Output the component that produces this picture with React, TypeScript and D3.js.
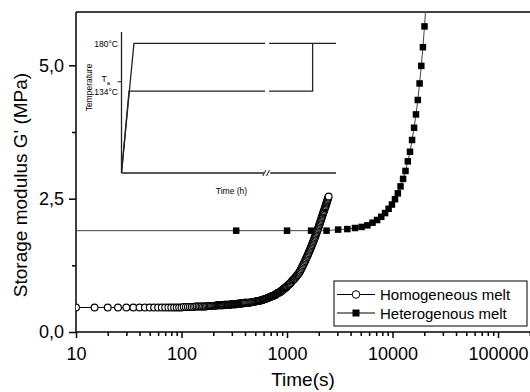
import React, { useEffect, useRef } from "react";
import * as d3 from "d3";

// Homogeneous melt, time (s) and G' (MPa)
const homoTime = [
  10, 15, 20, 25, 30, 35, 40, 45, 50, 55, 60, 65, 70, 75, 80, 85, 90, 95, 100, 105, 110, 115, 120, 125, 130, 135, 140, 145,
  150, 155, 160, 165, 170, 175, 180, 185, 190, 195, 200, 205, 210, 215, 220, 225, 230, 235, 240, 245, 250, 255, 260, 265, 270,
  275, 280, 285, 290, 295, 300, 305, 310, 315, 320, 325, 330, 335, 340, 345, 350, 355, 360, 365, 370, 375, 380, 385, 390, 395,
  400, 410, 420, 430, 440, 450, 460, 470, 480, 490, 500, 510, 520, 530, 540, 550, 560, 570, 580, 590, 600, 610, 620, 630, 640,
  650, 660, 670, 680, 690, 700, 710, 720, 730, 740, 750, 760, 770, 780, 790, 800, 810, 820, 830, 840, 850, 860, 870, 880, 890,
  900, 910, 920, 930, 940, 950, 960, 970, 980, 990,
  1000, 1020, 1040, 1060, 1080, 1100, 1120, 1140, 1160, 1180, 1200, 1220, 1240, 1260, 1280, 1300, 1320, 1340, 1360, 1380,
  1400, 1420, 1440, 1460, 1480, 1500, 1520, 1540, 1560, 1580, 1600, 1620, 1640, 1660, 1680, 1700, 1720, 1740, 1760, 1780,
  1800, 1820, 1840, 1860, 1880, 1900, 1920, 1940, 1960, 1980, 2000, 2020, 2040, 2060, 2080, 2100, 2120, 2140, 2160, 2180,
  2200, 2220, 2240, 2260, 2280, 2300, 2320, 2340, 2360, 2380, 2400, 2420, 2440, 2460, 2480,
];
const homoG = [
  0.46, 0.46, 0.46, 0.46, 0.46, 0.46, 0.46, 0.46, 0.46, 0.46, 0.46, 0.46, 0.46, 0.46, 0.46, 0.46, 0.46, 0.46, 0.46, 0.47, 0.47, 0.47, 0.47, 0.47, 0.47, 0.48, 0.48, 0.48,
  0.48, 0.48, 0.48, 0.48, 0.48, 0.49, 0.49, 0.49, 0.49, 0.49, 0.49, 0.49, 0.49, 0.5, 0.5, 0.5, 0.5, 0.5, 0.5, 0.5, 0.5, 0.51, 0.51, 0.51, 0.51,
  0.51, 0.51, 0.51, 0.51, 0.52, 0.52, 0.52, 0.52, 0.52, 0.52, 0.52, 0.52, 0.53, 0.53, 0.53, 0.53, 0.53, 0.53, 0.54, 0.54, 0.54, 0.54, 0.54, 0.54, 0.55,
  0.55, 0.55, 0.55, 0.55, 0.55, 0.555, 0.56, 0.56, 0.56, 0.565, 0.57, 0.575, 0.58, 0.58, 0.58, 0.585, 0.59, 0.595, 0.6, 0.605, 0.61, 0.615, 0.62, 0.625, 0.63,
  0.635, 0.64, 0.645, 0.65, 0.655, 0.66, 0.665, 0.67, 0.675, 0.68, 0.685, 0.69, 0.695, 0.7, 0.71, 0.72, 0.725, 0.73, 0.735, 0.74, 0.745, 0.75, 0.76, 0.77, 0.775,
  0.78, 0.79, 0.8, 0.805, 0.81, 0.82, 0.83, 0.835, 0.84, 0.85,
  0.86, 0.875, 0.89, 0.905, 0.92, 0.94, 0.96, 0.975, 0.99, 1.005, 1.02, 1.04, 1.06, 1.075, 1.09, 1.11, 1.13, 1.155, 1.18, 1.205,
  1.23, 1.255, 1.28, 1.305, 1.33, 1.355, 1.38, 1.405, 1.43, 1.455, 1.48, 1.505, 1.53, 1.555, 1.58, 1.605, 1.63, 1.655, 1.68, 1.705,
  1.73, 1.755, 1.78, 1.805, 1.83, 1.855, 1.88, 1.905, 1.93, 1.955, 1.98, 2.005, 2.03, 2.055, 2.08, 2.105, 2.13, 2.155, 2.18, 2.205,
  2.23, 2.25, 2.27, 2.295, 2.32, 2.34, 2.36, 2.385, 2.41, 2.43, 2.45, 2.475, 2.5, 2.52, 2.54,
];

// Heterogenous melt
const heteroTime = [
  1, 330, 1000, 1690, 2370, 3050, 3730, 4410, 5090, 5780, 6460, 7140, 7820, 8500, 9180, 9870, 10550, 11230, 11910,
  12590, 13270, 13960, 14640, 15320, 16000, 16680, 17370, 18050, 18730, 19410, 20090, 20770,
];
const heteroG = [
  1.9, 1.9, 1.9, 1.9, 1.9, 1.92, 1.93, 1.95, 1.97, 2.0, 2.05, 2.1, 2.16, 2.23, 2.31, 2.39, 2.49, 2.6, 2.73,
  2.87, 3.02, 3.2, 3.38, 3.6, 3.83, 4.08, 4.35, 4.66, 4.99, 5.34, 5.73, 6.15,
];

const seriesNames = ["Homogeneous melt", "Heterogenous melt"];
const xMajor = [10, 100, 1000, 10000, 100000];
const yMajor = [0, 2.5, 5];
const yMinor = [1.25, 3.75];

// inset: schematic temperature programme (arbitrary time units, degC)
const insetHighA = [[0, 55], [5.8, 180], [66.9, 180]];
const insetHighB = [[68.8, 180], [100, 180]];
const insetLowA = [[0, 55], [3.5, 134], [66.9, 134]];
const insetLowB = [[68.8, 134], [89.1, 134], [89.1, 180]];
const insetBaseA = [[0, 55], [66.4, 55]];
const insetBaseB = [[69.3, 55], [100, 55]];
const insetAxis = [[0, 55], [0, 191]];
const insetTa = 143;

const W = 530;
const H = 392;
const margin = { top: 12, right: 0, bottom: 60, left: 76 };
const font = "Arial, 'Liberation Sans', sans-serif";

export default function App() {
  const ref = useRef<SVGSVGElement>(null);

  useEffect(() => {
    const svg = d3.select(ref.current);
    svg.selectAll("*").remove();

    const x = d3.scaleLog().domain([10, 200000]).range([margin.left, 529.8]);
    const y = d3.scaleLinear().domain([0, 6]).range([H - margin.bottom, margin.top]);

    svg.append("defs").append("clipPath").attr("id", "plot")
      .append("rect").attr("x", margin.left).attr("y", margin.top)
      .attr("width", W - margin.left).attr("height", H - margin.bottom - margin.top);

    // frame top
    svg.append("line").attr("x1", margin.left).attr("x2", W).attr("y1", margin.top).attr("y2", margin.top)
      .attr("stroke", "#000").attr("stroke-width", 1.5);

    // x axis
    const minorX: number[] = [];
    for (let d = 10; d <= 100000; d *= 10) for (let k = 2; k <= 9; k++) if (d * k <= 200000) minorX.push(d * k);
    const gx = svg.append("g").attr("transform", `translate(0,${H - margin.bottom})`);
    gx.call(d3.axisBottom(x).tickValues(minorX).tickSize(4).tickFormat(() => ""));
    gx.call(g => g.select(".domain").remove());
    const gxM = svg.append("g").attr("transform", `translate(0,${H - margin.bottom})`);
    gxM.call(d3.axisBottom(x).tickValues(xMajor).tickSize(6).tickPadding(9).tickFormat(d3.format("d")));
    gxM.select(".domain").attr("d", `M${margin.left},0H${W}`);
    [gx, gxM].forEach(g => g.selectAll("line,path").attr("stroke", "#000").attr("stroke-width", 1.5));
    gxM.selectAll("text").attr("font-size", 18).attr("font-family", font).attr("fill", "#000");

    // y axis
    const gy = svg.append("g").attr("transform", `translate(${margin.left},0)`);
    gy.call(d3.axisLeft(y).tickValues(yMinor).tickSize(4).tickFormat(() => ""));
    gy.select(".domain").remove();
    const gyM = svg.append("g").attr("transform", `translate(${margin.left},0)`);
    gyM.call(d3.axisLeft(y).tickValues(yMajor).tickSize(7).tickPadding(5)
      .tickFormat(d => d3.format(".1f")(d as number).replace(".", ",")));
    gyM.select(".domain").attr("d", `M0,${margin.top}V${H - margin.bottom}`);
    [gy, gyM].forEach(g => g.selectAll("line,path").attr("stroke", "#000").attr("stroke-width", 1.5));
    gyM.selectAll("text").attr("font-size", 18).attr("font-family", font).attr("fill", "#000");

    // titles
    svg.append("text").attr("x", 303).attr("y", 386).attr("text-anchor", "middle")
      .attr("font-size", 19).attr("font-family", font).text("Time(s)");
    svg.append("text").attr("transform", "translate(27,185) rotate(-90)").attr("text-anchor", "middle")
      .attr("font-size", 19).attr("font-family", font).text("Storage modulus G' (MPa)");

    // inset
    const ix = d3.scaleLinear().domain([0, 100]).range([121.5, 336]);
    const iy = d3.scaleLinear().domain([55, 191]).range([173, 32]);
    const iline = d3.line<number[]>().x(d => ix(d[0])).y(d => iy(d[1]));
    const inset = svg.append("g");
    [insetAxis, insetBaseA, insetBaseB, insetHighA, insetHighB, insetLowA, insetLowB].forEach(p =>
      inset.append("path").attr("d", iline(p)).attr("fill", "none").attr("stroke", "#222").attr("stroke-width", 1.3));
    [66.6, 68.3].forEach(t =>
      inset.append("line").attr("x1", ix(t) - 1.5).attr("x2", ix(t) + 1.5).attr("y1", iy(55) + 3).attr("y2", iy(55) - 3)
        .attr("stroke", "#222").attr("stroke-width", 1));
    inset.append("line").attr("x1", ix(0) - 4).attr("x2", ix(0)).attr("y1", iy(insetTa)).attr("y2", iy(insetTa))
      .attr("stroke", "#222");
    const it = (tx: number, ty: number, s: string, anchor = "end") =>
      inset.append("text").attr("x", tx).attr("y", ty).attr("text-anchor", anchor)
        .attr("font-size", 8.5).attr("font-family", font).text(s);
    it(118, iy(180) + 4, "180°C");
    it(118, iy(134) + 3.5, "134°C");
    const ta = it(110, iy(insetTa) + 0.5, "T");
    ta.append("tspan").attr("font-size", 6).attr("dy", 3).text("a");
    it(231.5, 194, "Time (h)", "middle");
    inset.append("text").attr("transform", "translate(91.5,87.5) rotate(-90)").attr("text-anchor", "middle")
      .attr("font-size", 8.5).attr("font-family", font).text("Temperature");

    // data
    const plot = svg.append("g").attr("clip-path", "url(#plot)");
    const homo = homoTime.map((t, i) => [t, homoG[i]]);
    const hetero = heteroTime.map((t, i) => [t, heteroG[i]]);
    const line = d3.line<number[]>().x(d => x(d[0])).y(d => y(d[1]));

    plot.append("path").attr("d", line(homo)).attr("fill", "none").attr("stroke", "#000").attr("stroke-width", 1);
    plot.selectAll(".homo").data(homo).enter().append("circle")
      .attr("cx", d => x(d[0])).attr("cy", d => y(d[1])).attr("r", 3.4)
      .attr("fill", "#fff").attr("stroke", "#000").attr("stroke-width", 1.15);

    plot.append("path").attr("d", line(hetero)).attr("fill", "none").attr("stroke", "#444").attr("stroke-width", 1);
    const sq = 6.5;
    plot.selectAll(".hetero").data(hetero).enter().append("rect")
      .attr("x", d => x(d[0]) - sq / 2).attr("y", d => y(d[1]) - sq / 2)
      .attr("width", sq).attr("height", sq).attr("fill", "#000");

    // legend
    const lg = svg.append("g");
    lg.append("rect").attr("x", 334).attr("y", 281).attr("width", 193).attr("height", 45)
      .attr("fill", "#fff").attr("stroke", "#000").attr("stroke-width", 1);
    seriesNames.forEach((name, i) => {
      const ly = 294.5 + i * 18.5;
      lg.append("line").attr("x1", 337).attr("x2", 375).attr("y1", ly).attr("y2", ly).attr("stroke", "#000");
      if (i === 0) {
        lg.append("circle").attr("cx", 356).attr("cy", ly).attr("r", 3.8).attr("fill", "#fff").attr("stroke", "#000");
      } else {
        lg.append("rect").attr("x", 356 - 3.5).attr("y", ly - 3.5).attr("width", 7).attr("height", 7).attr("fill", "#000");
      }
      lg.append("text").attr("x", 380).attr("y", ly + 5.5).attr("font-size", 15).attr("font-family", font).text(name);
    });
  }, []);

  return (
    <svg ref={ref} width={W} height={H}
      style={{ position: "absolute", left: 0, top: 0, background: "#fff" }} />
  );
}
